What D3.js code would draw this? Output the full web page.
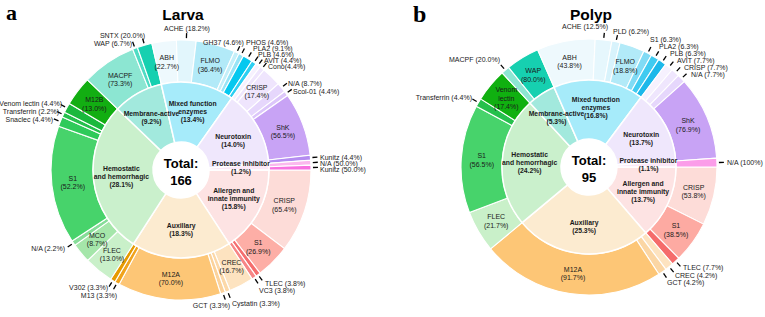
<!DOCTYPE html>
<html>
<head>
  <meta charset="utf-8">
  <title>Larva / Polyp</title>
  <style>
  * {
    margin: 0;
    padding: 0;
  }
  body { background: #fff; }
  </style>
</head>
<body>
  <script src="https://cdn.jsdelivr.net/npm/d3@7"></script>
  <script>
  // inner ring categories (same order for both panels)
  var groupNames = ["Allergen and\ninnate immunity", "Auxillary", "Hemostatic\nand hemorrhagic",
    "Membrane-active", "Mixed function\nenzymes", "Neurotoxin", "Protease inhibitor"];

  var larvaGroupPct = [15.8, 18.3, 28.1, 9.2, 13.4, 14.0, 1.2];
  var polypGroupPct = [13.7, 25.3, 24.2, 5.3, 16.8, 13.7, 1.1];

  var larvaSubNames = [
    ["CRISP", "S1", "TLEC", "VC3"],
    ["CREC", "Cystatin", "GCT", "M12A", "M13", "V302"],
    ["FLEC", "MCO", "N/A", "S1", "Snaclec", "Transferrin", "Venom lectin", "M12B"],
    ["MACPF", "WAP", "SNTX"],
    ["ABH", "ACHE", "FLMO", "GH37", "PHOS", "PLA2", "PLB"],
    ["AVIT", "Cono", "CRISP", "N/A", "Scol-01", "ShK", "Kunitz"],
    ["N/A", "Kunitz"]
  ];
  var larvaSubPct = [
    [65.4, 26.9, 3.8, 3.8],
    [16.7, 3.3, 3.3, 70.0, 3.3, 3.3],
    [13.0, 8.7, 2.2, 52.2, 4.4, 2.2, 4.4, 13.0],
    [73.3, 6.7, 20.0],
    [22.7, 18.2, 36.4, 4.6, 4.6, 9.1, 4.6],
    [4.4, 4.4, 17.4, 8.7, 4.4, 56.5, 4.4],
    [50.0, 50.0]
  ];

  var polypSubNames = [
    ["CRISP", "S1", "TLEC"],
    ["CREC", "GCT", "M12A"],
    ["FLEC", "S1", "Transferrin", "Venom lectin"],
    ["MACPF", "WAP"],
    ["ABH", "ACHE", "PLD", "FLMO", "S1", "PLA2", "PLB"],
    ["AVIT", "CRISP", "N/A", "ShK"],
    ["N/A"]
  ];
  var polypSubPct = [
    [53.8, 38.5, 7.7],
    [4.2, 4.2, 91.7],
    [21.7, 56.5, 4.4, 17.4],
    [20.0, 80.0],
    [43.8, 12.5, 6.2, 18.8, 6.3, 6.3, 6.3],
    [7.7, 7.7, 7.7, 76.9],
    [100]
  ];

  var larvaTotal = 166;
  var polypTotal = 95;

  // colours
  var groupColors = ["#fde3e3", "#fcebd0", "#caf0cc", "#a2e9dd", "#a6ebfa", "#efe7fc", "#fce9f8"];
  var larvaColors = [
    ["#fddcd8", "#fdaea6", "#f56e6e", "#f78686"],
    ["#fde3c0", "#fcd8a8", "#fbd29b", "#fdc676", "#f0a31c", "#e69a00"],
    ["#c9f0c9", "#a5e6aa", "#86dd98", "#47d36b", "#2fca5a", "#25c04c", "#1ab83c", "#12ae12"],
    ["#8ce6d2", "#50dcc4", "#16d0b0"],
    ["#eef9fd", "#e2f6fc", "#b2eaf8", "#c4eff9", "#98e4f6", "#05c8ef", "#2ccff2"],
    ["#f6f1fe", "#efe6fd", "#efe5fd", "#e6d7fc", "#dcc6fa", "#c8a3f5", "#b48cf0"],
    ["#fbb8ee", "#f872e0"]
  ];
  var polypColors = [
    ["#fddcd8", "#fdaaa2", "#f56b6b"],
    ["#fde3c0", "#fbd6a4", "#fdc676"],
    ["#c9f0c9", "#47d36b", "#25c04c", "#10b010"],
    ["#8ce6d2", "#16d0b0"],
    ["#eef9fd", "#e6f7fd", "#d8f3fc", "#b2eaf8", "#80dbf5", "#40cbf1", "#1cb8ea"],
    ["#f6f1fe", "#efe6fd", "#e6d7fc", "#c8a3f5"],
    ["#fb9de9"]
  ];

  // outside labels: key "group:name" -> [anchor, x, y(center)]
  var larvaOutside = {
    "4:ACHE": ["middle", 187, 28],
    "3:SNTX": ["end", 145, 35],
    "3:WAP": ["end", 132, 43],
    "2:Venom lectin": ["end", 62, 103],
    "2:Transferrin": ["end", 59, 111],
    "2:Snaclec": ["end", 53, 119],
    "2:N/A": ["end", 65, 248],
    "1:V302": ["end", 108, 287],
    "1:M13": ["end", 117, 295],
    "1:GCT": ["end", 230, 305],
    "1:Cystatin": ["start", 232, 303],
    "0:TLEC": ["start", 265, 283],
    "0:VC3": ["start", 259, 290],
    "5:Kunitz": ["start", 320, 157],
    "6:N/A": ["start", 320, 163],
    "6:Kunitz": ["start", 320, 169],
    "5:N/A": ["start", 288, 83],
    "5:Scol-01": ["start", 293, 91],
    "4:GH37": ["start", 203, 42],
    "4:PHOS": ["start", 246, 42],
    "4:PLA2": ["start", 253, 48.5],
    "4:PLB": ["start", 258, 54.5],
    "5:AVIT": ["start", 264, 60],
    "5:Cono": ["start", 268, 66]
  };
  var polypOutside = {
    "4:ACHE": ["end", 608, 26],
    "4:PLD": ["start", 613, 31],
    "4:S1": ["start", 650, 39],
    "4:PLA2": ["start", 659, 46],
    "4:PLB": ["start", 670, 53],
    "5:AVIT": ["start", 677, 60],
    "5:CRISP": ["start", 684, 67],
    "5:N/A": ["start", 691, 74],
    "3:MACPF": ["end", 500, 59],
    "2:Transferrin": ["end", 472, 97],
    "6:N/A": ["start", 727, 162],
    "0:TLEC": ["start", 683, 267],
    "1:CREC": ["start", 675, 275],
    "1:GCT": ["start", 667, 282]
  };

  var charts = [
    { title: "Larva", letter: "a", total: larvaTotal, groupPct: larvaGroupPct, subNames: larvaSubNames,
      subPct: larvaSubPct, colors: larvaColors, outside: larvaOutside,
      cx: 181, cy: 170, r0: 28, r1: 88, r2: 130, lx: 6, ly: 20, ls: 22 },
    { title: "Polyp", letter: "b", total: polypTotal, groupPct: polypGroupPct, subNames: polypSubNames,
      subPct: polypSubPct, colors: polypColors, outside: polypOutside,
      cx: 589, cy: 167, r0: 28, r1: 87, r2: 128, lx: 413, ly: 22, ls: 24 }
  ];

  var font = "'Liberation Sans', Arial, Helvetica, sans-serif";
  var ink = "#1a1a1a";

  function pctText(v) {
    return "(" + (v === 100 ? "100" : v.toFixed(1)) + "%)";
  }

  var svg = d3.select("body")
    .append("svg")
    .attr("width", 765)
    .attr("height", 317);

  charts.forEach(function(c) {
    var g = svg.append("g").attr("transform", "translate(" + c.cx + "," + c.cy + ")");

    var pie = d3.pie().sort(null)
      .startAngle(Math.PI / 2)
      .endAngle(Math.PI / 2 + 2 * Math.PI)
      .value(function(d) { return d; });
    var inner = pie(c.groupPct);
    var innerArc = d3.arc().innerRadius(c.r0).outerRadius(c.r1);
    var outerArc = d3.arc().innerRadius(c.r1).outerRadius(c.r2);

    var segs = [];
    inner.forEach(function(a, i) {
      var subPie = d3.pie().sort(null)
        .startAngle(a.startAngle)
        .endAngle(a.endAngle)
        .value(function(d) { return d; });
      subPie(c.subPct[i]).forEach(function(s, j) {
        s.group = i;
        s.idx = j;
        s.name = c.subNames[i][j];
        segs.push(s);
      });
    });

    // outer ring
    g.selectAll("path.outer")
      .data(segs)
      .enter()
      .append("path")
      .attr("class", "outer")
      .attr("d", outerArc)
      .attr("fill", function(d) { return c.colors[d.group][d.idx]; })
      .attr("stroke", "#fff")
      .attr("stroke-width", 1.1);

    // inner ring
    g.selectAll("path.inner")
      .data(inner)
      .enter()
      .append("path")
      .attr("class", "inner")
      .attr("d", innerArc)
      .attr("fill", function(d, i) { return groupColors[i]; })
      .attr("stroke", "#fff")
      .attr("stroke-width", 1.5);

    // inner labels
    inner.forEach(function(a, i) {
      var lines = groupNames[i].split("\n").concat([pctText(c.groupPct[i])]);
      var mid = (a.startAngle + a.endAngle) / 2;
      var r = (c.r0 + c.r1) / 2 + 2;
      var x = r * Math.sin(mid), y = -r * Math.cos(mid);
      var lh = 8;
      var t = g.append("text")
        .attr("font-family", font)
        .attr("font-size", "6.8px")
        .attr("font-weight", "bold")
        .attr("fill", ink)
        .attr("text-anchor", "middle");
      lines.forEach(function(l, k) {
        t.append("tspan")
          .attr("x", x)
          .attr("y", y + (k - (lines.length - 1) / 2) * lh + 2.4)
          .text(l);
      });
    });

    // outer labels
    segs.forEach(function(s) {
      var key = s.group + ":" + s.name;
      var mid = (s.startAngle + s.endAngle) / 2;
      var label = s.name + " " + pctText(c.subPct[s.group][s.idx]);
      if (s.name === "Cono") label = s.name + pctText(c.subPct[s.group][s.idx]);
      var pos = c.outside[key];
      if (pos) {
        var p1 = [(c.r2 + 2) * Math.sin(mid), -(c.r2 + 2) * Math.cos(mid)];
        var p2 = [(c.r2 + 7) * Math.sin(mid), -(c.r2 + 7) * Math.cos(mid)];
        g.append("line")
          .attr("x1", p1[0]).attr("y1", p1[1])
          .attr("x2", p2[0]).attr("y2", p2[1])
          .attr("stroke", "#000")
          .attr("stroke-width", 1.3);
        svg.append("text")
          .attr("x", pos[1])
          .attr("y", pos[2] + 2.5)
          .attr("text-anchor", pos[0])
          .attr("font-family", font)
          .attr("font-size", "7px")
          .attr("fill", ink)
          .text(label);
      } else {
        var lines = s.name.split(" ").concat([pctText(c.subPct[s.group][s.idx])]);
        var cen = outerArc.centroid(s);
        var t = g.append("text")
          .attr("font-family", font)
          .attr("font-size", "7px")
          .attr("fill", ink)
          .attr("text-anchor", "middle");
        lines.forEach(function(l, k) {
          t.append("tspan")
            .attr("x", cen[0])
            .attr("y", cen[1] + (k - (lines.length - 1) / 2) * 8.5 + 2.5)
            .text(l);
        });
      }
    });

    // centre
    g.append("circle").attr("r", c.r0 - 0.5).attr("fill", "#fff");
    g.append("text")
      .attr("y", -2)
      .attr("text-anchor", "middle")
      .attr("font-family", font)
      .attr("font-weight", "bold")
      .attr("font-size", "13px")
      .attr("fill", "#000")
      .text("Total:");
    g.append("text")
      .attr("y", 15)
      .attr("text-anchor", "middle")
      .attr("font-family", font)
      .attr("font-weight", "bold")
      .attr("font-size", "13px")
      .attr("fill", "#000")
      .text(c.total);

    // title + panel letter
    svg.append("text")
      .attr("x", c.cx + 2)
      .attr("y", 20)
      .attr("text-anchor", "middle")
      .attr("font-family", font)
      .attr("font-weight", "bold")
      .attr("font-size", "15.5px")
      .attr("fill", "#000")
      .text(c.title);
    svg.append("text")
      .attr("x", c.lx)
      .attr("y", c.ly)
      .attr("font-family", "'Liberation Serif', 'Times New Roman', serif")
      .attr("font-weight", "bold")
      .attr("font-size", c.ls + "px")
      .attr("fill", "#000")
      .text(c.letter);
  });
  </script>
</body>
</html>
